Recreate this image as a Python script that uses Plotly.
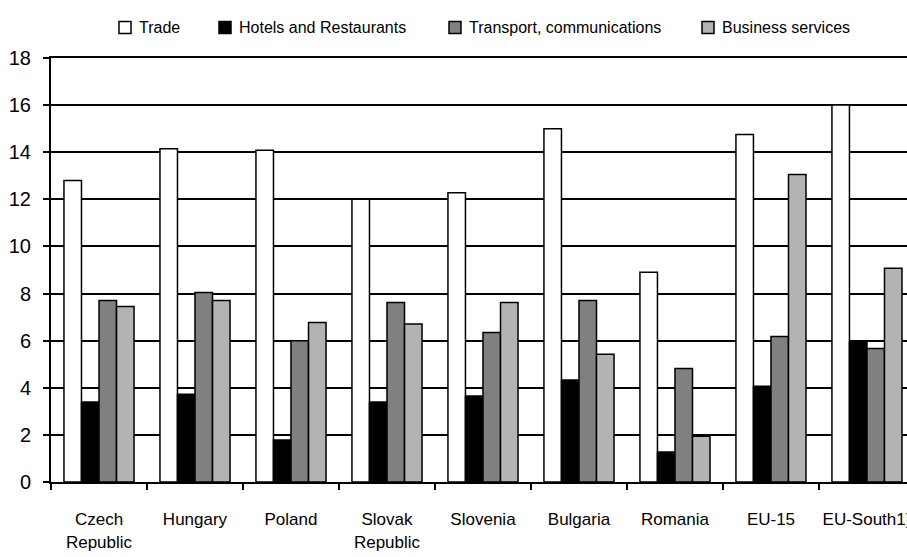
import plotly.graph_objects as go

# Employment shares by service sector (% of total)
countries = ["Czech<br>Republic", "Hungary", "Poland", "Slovak<br>Republic", "Slovenia",
             "Bulgaria", "Romania", "EU-15", "EU-South1)"]
trade = [12.8, 14.15, 14.08, 12.0, 12.28, 15.0, 8.9, 14.75, 16.0]
hotels = [3.4, 3.73, 1.78, 3.4, 3.65, 4.33, 1.27, 4.07, 5.95]
transport = [7.71, 8.05, 6.0, 7.62, 6.35, 7.71, 4.82, 6.18, 5.67]
business = [7.45, 7.71, 6.77, 6.71, 7.62, 5.42, 1.94, 13.05, 9.07]
y_ticks = [0, 2, 4, 6, 8, 10, 12, 14, 16, 18]

series_names = ["Trade", "Hotels and Restaurants", "Transport, communications", "Business services"]
series_values = [trade, hotels, transport, business]
series_colors = ["#ffffff", "#000000", "#808080", "#b3b3b3"]

FONT = "Liberation Sans, Arial, sans-serif"
W, H = 907, 557
M_L, M_R, M_T, M_B = 51, 0, 58, 75
plot_w = W - M_L - M_R
plot_h = H - M_T - M_B

fig = go.Figure()
for name, vals, col in zip(series_names, series_values, series_colors):
    fig.add_trace(go.Bar(
        name=name, x=countries, y=vals, showlegend=False,
        marker=dict(color=col, line=dict(color="#000000", width=1.5)),
    ))

# Legend row drawn above the plot: swatch + label per series
def px_to_paper(px, py):
    return (px - M_L) / plot_w, (H - M_B - py) / plot_h

legend_text_x = [137, 237, 467, 720]
legend_y = 27.5
swatch = 12
for name, col, tx in zip(series_names, series_colors, legend_text_x):
    x0, y0 = px_to_paper(tx - 18, legend_y + swatch / 2)
    x1, y1 = px_to_paper(tx - 18 + swatch, legend_y - swatch / 2)
    fig.add_shape(type="rect", xref="paper", yref="paper", x0=x0, y0=y0, x1=x1, y1=y1,
                  fillcolor=col, line=dict(color="#000000", width=1.5))
    ax, ay = px_to_paper(tx, legend_y)
    fig.add_annotation(xref="paper", yref="paper", x=ax, y=ay, text=name,
                       showarrow=False, xanchor="left", yanchor="middle",
                       font=dict(family=FONT, size=16, color="#000000"))

fig.update_layout(
    width=W, height=H,
    margin=dict(l=M_L, r=M_R, t=M_T, b=M_B),
    paper_bgcolor="white", plot_bgcolor="white",
    barmode="group", bargap=0.27, bargroupgap=0,
    font=dict(family=FONT, size=17, color="#000000"),
    showlegend=False,
    xaxis=dict(
        type="category",
        range=[-0.5, 8.417],
        showline=True, linecolor="#000000", linewidth=2, mirror=True,
        ticks="outside", tickson="boundaries", ticklen=6, tickwidth=1.5, tickcolor="#000000",
        showgrid=False, automargin=False, tickangle=0, ticklabelstandoff=21,
        tickfont=dict(family=FONT, size=17, color="#000000"),
    ),
    yaxis=dict(
        range=[0, 18], tickvals=y_ticks,
        showline=True, linecolor="#000000", linewidth=2,
        ticks="outside", ticklen=6, tickwidth=1.5, tickcolor="#000000",
        showgrid=True, gridcolor="#000000", gridwidth=1.5,
        zeroline=False, automargin=False, ticklabelstandoff=8,
        tickfont=dict(family=FONT, size=20, color="#000000"),
    ),
)

fig.write_html("out.html")
